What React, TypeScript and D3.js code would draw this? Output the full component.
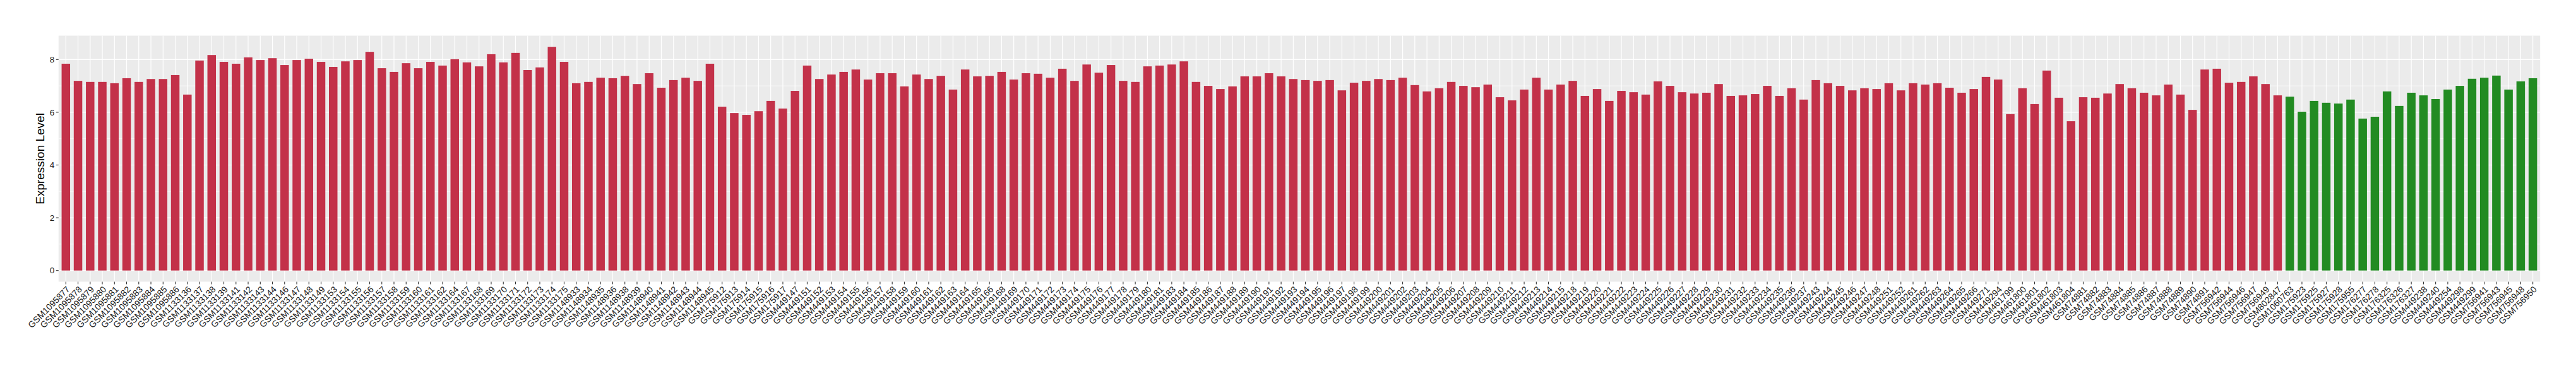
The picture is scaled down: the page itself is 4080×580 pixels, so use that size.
import React from 'react';
import * as d3 from 'd3';

const tumorSamples = [
  'GSM1095877','GSM1095878','GSM1095879','GSM1095880','GSM1095881','GSM1095882','GSM1095883','GSM1095884','GSM1095885','GSM1095886',
  'GSM1133136','GSM1133137','GSM1133138','GSM1133139','GSM1133141','GSM1133142','GSM1133143','GSM1133144','GSM1133146','GSM1133147',
  'GSM1133148','GSM1133149','GSM1133153','GSM1133154','GSM1133155','GSM1133156','GSM1133157','GSM1133158','GSM1133159','GSM1133160',
  'GSM1133161','GSM1133162','GSM1133164','GSM1133167','GSM1133168','GSM1133169','GSM1133170','GSM1133171','GSM1133172','GSM1133173',
  'GSM1133174','GSM1133175',
  'GSM1148933','GSM1148934','GSM1148935','GSM1148936','GSM1148938','GSM1148939','GSM1148940','GSM1148941','GSM1148942','GSM1148943',
  'GSM1148944','GSM1148945',
  'GSM175912','GSM175913','GSM175914','GSM175915','GSM175916','GSM175917',
  'GSM449147','GSM449151','GSM449152','GSM449153','GSM449154','GSM449155','GSM449156','GSM449157','GSM449158','GSM449159',
  'GSM449160','GSM449161','GSM449162',
  'GSM449163','GSM449164','GSM449165','GSM449166','GSM449168','GSM449169','GSM449170','GSM449171','GSM449172','GSM449173',
  'GSM449174','GSM449175','GSM449176','GSM449177','GSM449178','GSM449179','GSM449180','GSM449181','GSM449183','GSM449184',
  'GSM449185','GSM449186','GSM449187','GSM449188','GSM449189',
  'GSM449190','GSM449191','GSM449192','GSM449193','GSM449194','GSM449195','GSM449196','GSM449197','GSM449198','GSM449199',
  'GSM449200','GSM449201','GSM449202','GSM449203','GSM449204','GSM449205','GSM449206','GSM449207','GSM449208','GSM449209',
  'GSM449210','GSM449211','GSM449212','GSM449213','GSM449214',
  'GSM449215','GSM449218','GSM449219','GSM449220','GSM449221','GSM449222','GSM449223','GSM449224','GSM449225','GSM449226',
  'GSM449227','GSM449228','GSM449229','GSM449230','GSM449231','GSM449232','GSM449233','GSM449234','GSM449235','GSM449236',
  'GSM449237','GSM449243','GSM449244','GSM449245','GSM449246',
  'GSM449247','GSM449248','GSM449251','GSM449252','GSM449261','GSM449262','GSM449263','GSM449264','GSM449265','GSM449266',
  'GSM449271','GSM449294',
  'GSM461799','GSM461800','GSM461801','GSM461802','GSM461803','GSM461804',
  'GSM74881','GSM74882','GSM74883','GSM74884','GSM74885','GSM74886','GSM74887','GSM74888','GSM74889','GSM74890','GSM74891',
  'GSM756942','GSM756944','GSM756946','GSM756947','GSM756949',
  'GSM802847',
];

const tumorValues = [
  7.84, 7.19, 7.15, 7.15, 7.10, 7.29, 7.15, 7.26, 7.26, 7.41,
  6.67, 7.96, 8.17, 7.91, 7.84, 8.08, 7.98, 8.05, 7.79, 7.98,
  8.03, 7.91, 7.72, 7.93, 7.98, 8.29, 7.67, 7.53, 7.86, 7.67,
  7.91, 7.77, 8.01, 7.89, 7.74, 8.20, 7.89, 8.25, 7.60, 7.70,
  8.48, 7.91,
  7.10, 7.15, 7.31, 7.29, 7.38, 7.07, 7.48, 6.93, 7.22, 7.31,
  7.19, 7.84,
  6.21, 5.97, 5.90, 6.04, 6.43, 6.14,
  6.81, 7.77, 7.26, 7.43, 7.53, 7.62, 7.24, 7.48, 7.48, 6.98,
  7.43, 7.26, 7.38,
  6.86, 7.62, 7.36, 7.38, 7.53, 7.24, 7.48, 7.46, 7.31, 7.65,
  7.19, 7.81, 7.50, 7.79, 7.19, 7.15, 7.74, 7.77, 7.81, 7.93,
  7.15, 7.00, 6.88, 6.98, 7.36,
  7.36, 7.48, 7.36, 7.26, 7.22, 7.19, 7.22, 6.83, 7.12, 7.19,
  7.26, 7.22, 7.31, 7.03, 6.79, 6.91, 7.15, 7.00, 6.95, 7.05,
  6.57, 6.45, 6.86, 7.31, 6.86,
  7.05, 7.19, 6.62, 6.88, 6.43, 6.81, 6.76, 6.67, 7.17, 7.00,
  6.76, 6.71, 6.74, 7.07, 6.62, 6.64, 6.69, 7.00, 6.62, 6.91,
  6.48, 7.22, 7.10, 7.00, 6.83,
  6.91, 6.88, 7.10, 6.83, 7.10, 7.05, 7.10, 6.93, 6.74, 6.88,
  7.34, 7.24,
  5.93, 6.91, 6.31, 7.58, 6.55, 5.66,
  6.57, 6.55, 6.71, 7.07, 6.91, 6.74, 6.64, 7.05, 6.67, 6.09, 7.62,
  7.65, 7.12, 7.15, 7.36, 7.07,
  6.64,
];

const normalSamples = [
  'GSM1060763','GSM175923','GSM175925','GSM175927','GSM175928','GSM175955','GSM176277','GSM176278','GSM176325','GSM176326',
  'GSM176327','GSM449238','GSM449240','GSM449254','GSM449298','GSM449299','GSM756941','GSM756943','GSM756945','GSM756948',
  'GSM756950',
];

const normalValues = [
  6.59, 6.02, 6.43, 6.36, 6.33, 6.48, 5.76, 5.83, 6.79, 6.24,
  6.74, 6.64, 6.50, 6.86, 7.00, 7.27, 7.31, 7.39, 6.86, 7.17,
  7.29,
];

const yMajorTicks = [0, 2, 4, 6, 8];
const yMinorTicks = [1, 3, 5, 7];
const yTitle = 'Expression Level';

const groupColors: Record<string, string> = { tumor: '#C33149', normal: '#228B22' };

export default function App() {
  const W = 4080;
  const H = 580;
  const left = 92.75;
  const right = 4023.2;
  const top = 56.5;
  const bottom = 446.4;
  const font = "'Liberation Sans', Arial, Helvetica, sans-serif";

  const data = [
    ...tumorSamples.map((s, i) => ({ s, v: tumorValues[i], g: 'tumor' })),
    ...normalSamples.map((s, i) => ({ s, v: normalValues[i], g: 'normal' })),
  ];

  const x = d3
    .scaleBand<string>()
    .domain(data.map((d) => d.s))
    .range([left, right])
    .paddingInner(0.3)
    .paddingOuter(0.25);
  const maxV = d3.max(data, (d) => d.v) as number;
  const y = d3.scaleLinear().domain([-0.05 * maxV, 1.05 * maxV]).range([bottom, top]);
  const bw = x.bandwidth();
  const cx = (s: string) => (x(s) as number) + bw / 2;

  return (
    <svg
      width={W}
      height={H}
      style={{ position: 'absolute', left: 0, top: 0, background: '#fff' }}
      fontFamily={font}
    >
      <rect x={left} y={top} width={right - left} height={bottom - top} fill="#EBEBEB" />
      {yMinorTicks.map((t) => (
        <line key={'mn' + t} x1={left} x2={right} y1={y(t)} y2={y(t)} stroke="#fff" strokeWidth={0.6} />
      ))}
      {yMajorTicks.map((t) => (
        <line key={'mj' + t} x1={left} x2={right} y1={y(t)} y2={y(t)} stroke="#fff" strokeWidth={1.2} />
      ))}
      {data.map((d) => (
        <line key={'vx' + d.s} x1={cx(d.s)} x2={cx(d.s)} y1={top} y2={bottom} stroke="#fff" strokeWidth={1.2} />
      ))}
      {data.map((d) => (
        <rect
          key={'b' + d.s}
          x={x(d.s)}
          width={bw}
          y={y(d.v)}
          height={y(0) - y(d.v)}
          fill={groupColors[d.g]}
        />
      ))}
      {yMajorTicks.map((t) => (
        <g key={'yt' + t}>
          <line x1={left - 4} x2={left} y1={y(t)} y2={y(t)} stroke="#333" strokeWidth={1.1} />
          <text x={left - 6.5} y={y(t)} dy="0.35em" textAnchor="end" fontSize={13.5} fill="#1a1a1a">
            {t}
          </text>
        </g>
      ))}
      {data.map((d) => (
        <g key={'xt' + d.s}>
          <line x1={cx(d.s)} x2={cx(d.s)} y1={bottom} y2={bottom + 4} stroke="#333" strokeWidth={1.1} />
          <text
            transform={`translate(${cx(d.s)},${bottom + 6}) rotate(-45)`}
            textAnchor="end"
            dy="0.72em"
            fontSize={14}
            fill="#1a1a1a"
          >
            {d.s}
          </text>
        </g>
      ))}
      <text
        transform={`translate(69.5,${(top + bottom) / 2}) rotate(-90)`}
        textAnchor="middle"
        fontSize={19}
        fill="#000"
      >
        {yTitle}
      </text>
    </svg>
  );
}
